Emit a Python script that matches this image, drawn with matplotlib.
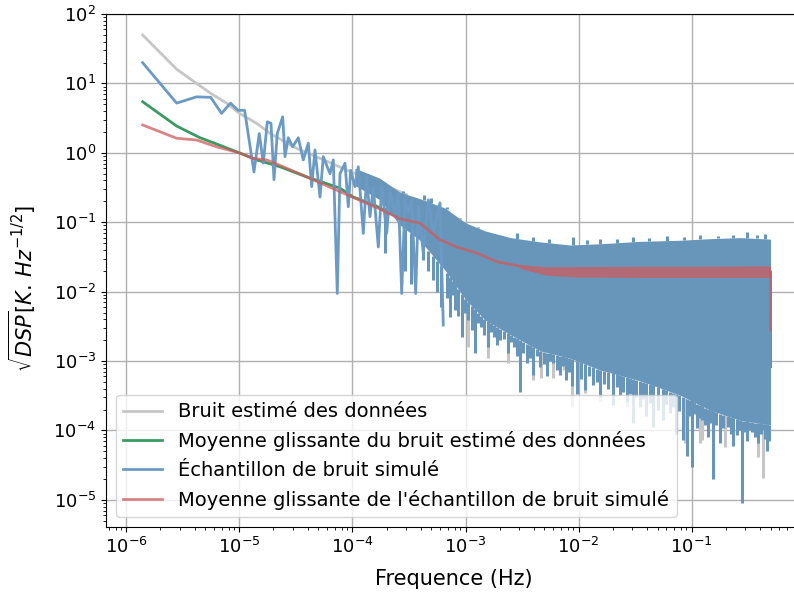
import matplotlib.pyplot as plt
import numpy as np

# Bruit estimé des données (partie basse fréquence, lisible)
gray_f = [1.39e-6, 2.78e-6, 4.17e-6, 5.56e-6, 7.7e-6, 1.0e-5, 1.42e-5, 1.86e-5,
          3.2e-5, 6.0e-5, 1.0e-4, 1.66e-4, 3.0e-4]
gray_v = [49.8, 16.0, 10.0, 7.2, 5.2, 3.7, 2.66, 1.91, 1.16, 0.75, 0.52, 0.38, 0.25]
# pics du bruit estimé qui dépassent sous l'échantillon simulé
gray_spike_f = [1.05e-3, 1.57e-3, 2.38e-3, 3.96e-3, 4.7e-3, 5.95e-3, 7.5e-3, 8.76e-3,
                1.14e-2, 1.55e-2, 2.2e-2, 2.69e-2, 3.96e-2, 5.6e-2, 8.8e-2, 0.119,
                0.124, 0.198, 0.233, 0.31, 0.388, 0.429]
gray_spike_v = [1.6e-3, 1.1e-3, 9.35e-4, 5.3e-4, 5.7e-4, 5.7e-4, 7.4e-4, 2.17e-4,
                3.5e-4, 2.7e-4, 5.3e-4, 2.2e-4, 1.78e-4, 2.3e-4, 6.6e-5, 6.6e-5,
                7.3e-5, 5.8e-5, 7.3e-5, 1.0e-4, 4.1e-5, 2.06e-5]

# Moyenne glissante du bruit estimé
green_f = [1.39e-6, 2.78e-6, 4.47e-6, 6.28e-6, 9.96e-6, 1.42e-5, 2.28e-5, 3.93e-5,
           7.75e-5, 1.017e-4, 1.528e-4, 2.633e-4, 3.957e-4, 6.36e-4, 8.36e-4,
           1.257e-3, 1.888e-3, 3.037e-3, 5.23e-3, 9.64e-3, 2.33e-2, 0.119, 0.4999, 0.5]
green_v = [5.45, 2.43, 1.65, 1.34, 1.0, 0.79, 0.63, 0.45, 0.31, 0.23, 0.18, 0.114,
           0.094, 0.058, 0.046, 0.037, 0.028, 0.024, 0.021, 0.020, 0.0195, 0.0195,
           0.0195, 8.3e-4]

# Échantillon de bruit simulé : points lisibles aux basses fréquences
blue_f = [1.39e-6, 2.78e-6, 4.17e-6, 5.56e-6, 6.94e-6, 8.33e-6, 9.72e-6, 1.11e-5,
          1.343e-5, 1.496e-5, 1.624e-5, 1.762e-5, 1.900e-5, 2.020e-5, 2.160e-5,
          2.412e-5, 2.527e-5, 2.703e-5, 2.956e-5, 3.314e-5, 3.669e-5, 4.063e-5,
          4.354e-5, 4.657e-5, 5.159e-5, 5.516e-5, 6.324e-5, 6.762e-5, 7.335e-5,
          7.750e-5, 8.585e-5, 9.180e-5, 9.640e-5, 1.052e-4, 1.125e-4, 1.246e-4,
          1.335e-4, 1.428e-4, 1.528e-4, 1.692e-4, 1.813e-4, 2.008e-4, 2.148e-4,
          2.378e-4, 2.543e-4, 2.725e-4, 2.914e-4, 3.117e-4, 3.341e-4, 3.625e-4,
          3.822e-4, 4.231e-4, 4.686e-4, 5.188e-4, 5.945e-4, 6.359e-4]
blue_v = [19.9, 5.2, 6.4, 6.3, 3.7, 5.2, 4.1, 4.1,
          0.53, 1.9, 0.71, 2.8, 2.66, 0.41, 1.9,
          3.3, 0.88, 1.65, 1.22, 1.65, 0.79, 1.38,
          0.325, 1.1, 0.23, 0.88, 0.5, 0.79, 0.0094,
          0.5, 0.71, 0.167, 0.56, 0.325, 0.63, 0.069,
          0.45, 0.12, 0.325, 0.044, 0.325, 0.069, 0.29,
          0.12, 0.26, 0.0094, 0.21, 0.14, 0.21, 0.0094,
          0.167, 0.036, 0.21, 0.069, 0.19, 0.0033]
# zone dense : bords haut et bas de la bande pleine
band_f = [1.05e-4, 1.75e-4, 2.63e-4, 3.9e-4, 6.6e-4, 1.0e-3, 1.49e-3, 2.5e-3,
          4.6e-3, 8.4e-3, 1.57e-2, 3.5e-2, 8.0e-2, 0.147, 0.27, 0.5]
band_hi = [0.60, 0.43, 0.27, 0.22, 0.160, 0.098, 0.075, 0.060,
           0.052, 0.047, 0.049, 0.053, 0.055, 0.058, 0.060, 0.057]
band_lo = [0.34, 0.21, 0.091, 0.056, 0.0203, 0.0077, 0.0039, 0.0024,
           0.0014, 0.0011, 7.4e-4, 5.2e-4, 3.2e-4, 1.95e-4, 1.4e-4, 1.2e-4]
# pics vers le bas
spike_f = [1.95e-4, 2.9e-4, 3.3e-4, 4.2e-4, 4.7e-4, 5.19e-4, 5.6e-4, 6.1e-4,
           6.9e-4, 7.29e-4, 7.7e-4, 8.07e-4, 8.6e-4, 9.26e-4, 9.9e-4, 1.052e-3,
           1.13e-3, 1.214e-3, 1.29e-3, 1.372e-3, 1.47e-3, 1.566e-3, 1.67e-3,
           1.788e-3, 1.9e-3, 2.02e-3, 2.2e-3, 2.377e-3, 2.53e-3, 2.687e-3, 2.85e-3,
           3.037e-3, 3.25e-3, 3.501e-3, 3.7e-3, 3.957e-3, 4.25e-3, 4.563e-3, 4.9e-3,
           5.261e-3, 5.6e-3, 5.945e-3, 6.4e-3, 6.86e-3, 7.3e-3, 7.751e-3, 8.2e-3,
           8.761e-3, 9.7e-3, 1.05e-2, 1.142e-2, 1.24e-2, 1.343e-2, 1.45e-2, 1.55e-2,
           1.68e-2, 1.824e-2, 2.02e-2, 2.17e-2, 2.33e-2, 2.5e-2, 2.687e-2, 2.85e-2,
           3.037e-2, 3.25e-2, 3.501e-2, 3.75e-2, 3.957e-2, 4.25e-2, 4.563e-2,
           5.052e-2, 5.595e-2, 6.0e-2, 6.452e-2, 6.9e-2, 7.292e-2, 7.8e-2, 8.41e-2,
           9.13e-2, 9.6e-2, 0.101, 0.106, 0.1119, 0.118, 0.1239, 0.132, 0.14, 0.148,
           0.155, 0.166, 0.1788, 0.19, 0.2104, 0.222, 0.233, 0.2528, 0.266, 0.2798,
           0.295, 0.3099, 0.326, 0.3431, 0.365, 0.3879, 0.41, 0.4293, 0.448, 0.4657,
           0.485]
spike_v = [0.036, 0.02, 0.013, 0.029, 0.02, 0.0146, 0.01, 0.006,
           0.008, 0.0043, 0.009, 0.0054, 0.0045, 0.0022, 0.005, 0.0039,
           0.0028, 0.0013, 0.0035, 0.0031, 0.0024, 0.0016, 0.0026,
           0.0022, 0.0017, 0.002, 0.0021, 0.0013, 0.0019, 0.0016, 0.0012,
           3.6e-4, 0.0013, 9.4e-4, 0.0011, 6.3e-4, 0.0012, 8.3e-4, 9.0e-4,
           6.0e-4, 0.001, 9.4e-4, 7.5e-4, 6.3e-4, 8.5e-4, 5.3e-4, 7.0e-4,
           4.3e-4, 3.4e-4, 5.5e-4, 3.8e-4, 6.0e-4, 4.5e-4, 5.0e-4, 3.0e-4,
           4.6e-4, 4.0e-4, 2.3e-4, 4.2e-4, 3.2e-4, 3.6e-4, 2.6e-4, 3.4e-4,
           1.28e-4, 3.0e-4, 2.2e-4, 2.8e-4, 1.6e-4, 2.5e-4, 1.12e-4,
           2.0e-4, 1.41e-4, 2.4e-4, 1.8e-4, 2.2e-4, 9e-5, 1.9e-4, 7.3e-5,
           4.3e-5, 1.6e-4, 3.0e-5, 1.7e-4, 1.1e-4, 1.5e-4, 1.4e-4, 1.2e-4, 8e-5, 1.3e-4,
           2.0e-5, 1.2e-4, 6.6e-5, 1.1e-4, 1.12e-4, 9.0e-5, 6e-5, 8.5e-5, 1.0e-4, 9.0e-6,
           9.5e-5, 7e-5, 1.0e-4, 9.4e-5, 8.0e-5, 6.6e-5, 9.0e-5, 1.0e-4, 7.5e-5, 5.0e-5,
           7.0e-5]
# pics vers le haut
up_f = [2.8e-4, 4.3e-4, 5.0e-4, 6.8e-4, 9.0e-4, 1.3e-3, 1.9e-3, 2.85e-3, 3.96e-3,
        5.5e-3, 8.9e-3, 1.2e-2, 1.55e-2, 2.2e-2, 3.04e-2, 4.2e-2, 6.06e-2, 8.5e-2,
        0.119, 0.17, 0.233, 0.31, 0.38, 0.45]
up_v = [0.28, 0.25, 0.22, 0.167, 0.115, 0.085, 0.068, 0.069, 0.062,
        0.057, 0.062, 0.055, 0.058, 0.058, 0.062, 0.06, 0.064, 0.061,
        0.066, 0.063, 0.066, 0.073, 0.066, 0.068]

# Moyenne glissante de l'échantillon simulé
red_f = [1.39e-6, 2.78e-6, 4.17e-6, 6.28e-6, 9.96e-6, 1.325e-5, 1.74e-5, 2.28e-5,
         3.93e-5, 8.88e-5, 1.752e-4, 2.633e-4, 3.957e-4, 5.945e-4, 8.36e-4,
         1.257e-3, 1.888e-3, 3.037e-3]
red_v = [2.52, 1.62, 1.53, 1.22, 1.0, 0.83, 0.79, 0.66,
         0.45, 0.25, 0.155, 0.112, 0.097, 0.056, 0.044,
         0.036, 0.027, 0.0233]
red_band_f = [3.037e-3, 5.23e-3, 9.64e-3, 3.5e-2, 0.119, 0.4999]
red_band_hi = [0.0245, 0.0228, 0.023, 0.0232, 0.0232, 0.0235]
red_band_lo = [0.0215, 0.0172, 0.0162, 0.016, 0.016, 0.016]
red_tail_f = [0.4999, 0.5]
red_tail_v = [0.019, 0.0028]


def loginterp(x, xp, fp):
    return 10 ** np.interp(np.log10(x), np.log10(xp), np.log10(fp))


def main():
    fig = plt.figure(figsize=(7.94, 6.01), dpi=100)
    ax = fig.add_axes([0.1335, 0.1231, 0.8766, 0.8536])

    c_gray = '#c6c6c6'
    c_green = '#3a9a62'
    c_blue = '#6b9ac4'
    c_band = '#6896bb'
    c_red = 'indianred'

    l_gray, = ax.plot(gray_f, gray_v, color=c_gray, lw=2, zorder=2,
                      label='Bruit estimé des données')
    ax.vlines(gray_spike_f, gray_spike_v, loginterp(gray_spike_f, band_f, band_lo),
              color=c_gray, lw=2.2, zorder=2)
    l_green, = ax.plot(green_f, green_v, color=c_green, lw=2, zorder=3,
                       label='Moyenne glissante du bruit estimé des données')

    ax.fill_between(band_f, band_lo, band_hi, color=c_band, lw=0, zorder=4)
    ax.vlines(spike_f, spike_v, loginterp(spike_f, band_f, band_lo), color=c_band,
              lw=2.2, zorder=4)
    ax.vlines(up_f, loginterp(up_f, band_f, band_hi), up_v, color=c_band, lw=2.2, zorder=4)
    l_blue, = ax.plot(blue_f, blue_v, color=c_blue, lw=2, zorder=5,
                      label='Échantillon de bruit simulé')

    l_red, = ax.plot(red_f, red_v, color=c_red, lw=2, alpha=0.75, zorder=6,
                     label="Moyenne glissante de l'échantillon de bruit simulé")
    ax.fill_between(red_band_f, red_band_lo, red_band_hi, color=c_red, alpha=0.75,
                    lw=0, zorder=6)
    ax.plot(red_tail_f, red_tail_v, color=c_red, lw=2, alpha=0.75, zorder=6)

    ax.set_xscale('log')
    ax.set_yscale('log')
    ax.set_xlim(6.59e-7, 0.95)
    ax.set_ylim(4.06e-6, 100)
    ax.grid(True, color='#b0b0b0', lw=1, zorder=0)
    ax.set_axisbelow(True)
    ax.tick_params(labelsize=13)

    ax.set_xlabel('Frequence (Hz)', fontsize=15, labelpad=9)
    ax.set_ylabel(r'$\sqrt{DSP}[K.\,Hz^{-1/2}]$', fontsize=15)
    ax.yaxis.set_label_coords(-0.098, 0.465)

    leg = ax.legend(handles=[l_gray, l_green, l_blue, l_red], loc='lower left', fontsize=14)
    leg.set_zorder(10)

    plt.savefig('out.png', dpi=100)


if __name__ == "__main__":
    main()
